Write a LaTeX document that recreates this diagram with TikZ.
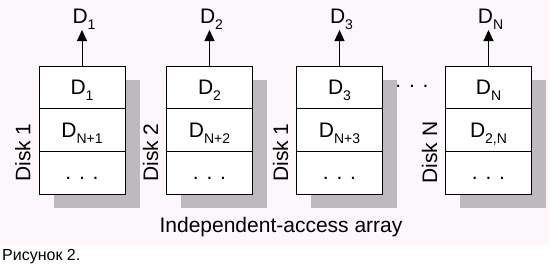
\documentclass[tikz,border=0pt]{standalone}
\usepackage{fontspec}
\setmainfont{Liberation Sans}
\usetikzlibrary{positioning,arrows.meta}
\definecolor{CBack}{HTML}{FBF7FB}
\definecolor{CShade}{HTML}{BDB9BF}
\newcommand{\Dsub}[1]{D\raisebox{-6pt}{\fontsize{14}{16}\selectfont #1}}
\tikzset{
  cell/.style={draw, fill=white, line width=1pt, minimum width=86pt,
    minimum height=128pt/3, inner sep=0pt, outer sep=0pt,
    text height=14pt, text depth=0pt, font=\fontsize{21}{25}\selectfont},
  lbl/.style={inner sep=0pt, font=\fontsize{21}{25}\selectfont},
  outarrow/.style={line width=1pt, -{Triangle[length=11pt,width=10pt]}}
}

\begin{document}
\begin{tikzpicture}[x=1pt,y=-1pt]
  \useasboundingbox (0,0) rectangle (552,269);
  \fill[white] (0,0) rectangle (552,269);
  \fill[CBack] (0,0) rectangle (549,245);
  % one disk: shadow, three cells, output arrow, side label
  \foreach \cx/\dsk/\first/\second [count=\i] in {%
     82/{Disk 1}/1/{N+1},
    209.5/{Disk 2}/2/{N+2},
    339.5/{Disk 1}/3/{N+3},
    488.5/{Disk N}/N/{2,N}}{
    \fill[CShade] (\cx-28.5,80) rectangle (\cx+57.5,208);
    \node[cell] (top\i) at (\cx,87.33) {\Dsub{\first}};
    \node[cell, below=0pt of top\i] (mid\i) {\Dsub{\second}};
    \node[cell, below=0pt of mid\i] (low\i) {. . .};
    \node[lbl, anchor=south] (out\i) at (\cx+2,30) {\Dsub{\first}};
    \draw[outarrow] (top\i.north) -- (top\i.north |- out\i.south);
    \node[lbl, rotate=90, anchor=base] (disk\i) at (\cx-51.5,152.5) {\dsk};
  }
  \node[lbl, anchor=base] (gap) at (412,87) {. . .};
  \node[lbl, anchor=base] (title) at (281,232) {Independent-access array};
  \node[inner sep=0pt, anchor=base west, font=\fontsize{16}{18}\selectfont]
    (caption) at (2,260) {Рисунок 2.};
\end{tikzpicture}
\end{document}
